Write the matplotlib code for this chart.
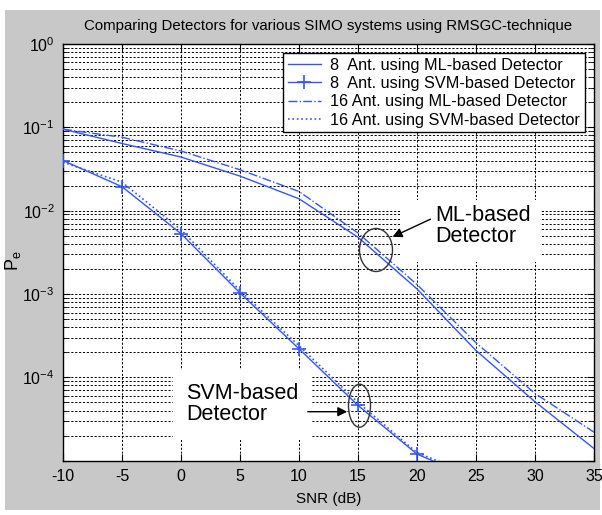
import numpy as np
import matplotlib
matplotlib.use("Agg")
from matplotlib import pyplot as plt
from matplotlib.patches import Ellipse, Rectangle
from matplotlib.ticker import LogLocator, FuncFormatter, NullFormatter

plt.rcParams['font.family'] = ['Liberation Sans', 'DejaVu Sans']
plt.rcParams['mathtext.default'] = 'regular'
plt.rcParams['axes.unicode_minus'] = False

# values
snr = [-10, -5, 0, 5, 10, 15, 20, 25, 30, 35]
ml_8 = [0.095, 0.064, 0.044, 0.026, 0.0139, 0.0048, 1.15e-3, 2.1e-4, 5.1e-5, 1.4e-5]
ml_16 = [0.095, 0.076, 0.052, 0.031, 0.017, 0.0054, 1.3e-3, 2.6e-4, 6.4e-5, 2.2e-5]

snr_svm = [-10, -5, 0, 5, 10, 15, 20, 25]
svm_8 = [0.040, 0.0194, 0.0053, 0.00103, 2.2e-4, 4.6e-5, 1.2e-5, 6e-6]
svm_16 = [0.038, 0.022, 0.0059, 0.0011, 2.4e-4, 5e-5, 1.25e-5, 6.5e-6]

labels = ['8  Ant. using ML-based Detector', '8  Ant. using SVM-based Detector',
          '16 Ant. using ML-based Detector', '16 Ant. using SVM-based Detector']

W, H = 602, 515
fig = plt.figure(figsize=(W / 100, H / 100), dpi=100, facecolor='white')
fig.patches.append(Rectangle((5 / W, 1 - 510 / H), 595 / W, 500 / H, transform=fig.transFigure,
                             facecolor='#c8c8c8', edgecolor='none', zorder=-10))

L, R, T, B = 63, 594, 44, 460.7
ax = fig.add_axes([L / W, 1 - B / H, (R - L) / W, (B - T) / H])
ax.set_facecolor('white')

def axfrac(px, py):
    return (px - L) / (R - L), (B - py) / (B - T)

blue = '#3355ff'
ax.plot(snr, ml_8, '-', color=blue, lw=1, label=labels[0], zorder=3)
ax.plot(snr_svm, svm_8, '-', marker='+', ms=10, mew=1.2, color=blue, lw=1, label=labels[1], zorder=3)
ax.plot(snr, ml_16, '-.', color=blue, lw=1, label=labels[2], zorder=3)
ax.plot(snr_svm, svm_16, ':', color=blue, lw=1.2, label=labels[3], zorder=3)

ax.set_yscale('log')
ax.set_xlim(-10, 35)
ax.set_ylim(1e-5, 1)
ax.set_xticks(range(-10, 36, 5))
ax.yaxis.set_major_locator(LogLocator(base=10, numticks=10))
ax.yaxis.set_minor_locator(LogLocator(base=10, subs=np.arange(2, 10), numticks=20))

def ylab(v, p):
    e = round(np.log10(v))
    return '' if e < -4 else r'$10^{%d}$' % e

ax.yaxis.set_major_formatter(FuncFormatter(ylab))
ax.yaxis.set_minor_formatter(NullFormatter())

ax.set_axisbelow(True)
ax.grid(True, which='major', axis='both', ls=(0, (2.2, 1.8)), color='black', lw=0.7)
ax.grid(True, which='minor', axis='y', ls=(0, (2.2, 1.8)), color='black', lw=0.7)

ax.tick_params(which='both', direction='in', top=True, right=True, labelsize=11.5, pad=6)
ax.tick_params(which='major', length=5)
ax.tick_params(which='minor', length=3)
for s in ax.spines.values():
    s.set_linewidth(1)

ax.set_title('Comparing Detectors for various SIMO systems using RMSGC-technique', fontsize=10.8, pad=10)
ax.set_xlabel('SNR (dB)', fontsize=11, labelpad=6)
ax.set_ylabel('$P_e$', fontsize=13)
ax.yaxis.set_label_coords(-0.075, 0.48)

# white boxes behind annotation text
for (x0, y0, x1, y1) in [(400, 200, 540, 262), (173, 370, 311, 440)]:
    fx0, fy1 = axfrac(x0, y0)
    fx1, fy0 = axfrac(x1, y1)
    ax.add_patch(Rectangle((fx0, fy0), fx1 - fx0, fy1 - fy0, transform=ax.transAxes,
                           facecolor='white', edgecolor='none', zorder=1))

# ML annotation
cx, cy = axfrac(376, 250)
ax.add_patch(Ellipse((cx, cy), 33 / (R - L), 43 / (B - T), transform=ax.transAxes,
                     fill=False, edgecolor='#333333', lw=1, zorder=4))
ax.annotate('', xy=axfrac(390, 238), xytext=axfrac(433, 218), xycoords='axes fraction',
            arrowprops=dict(arrowstyle='-|>', color='black', lw=1, mutation_scale=14), zorder=4)
ax.text(*axfrac(435, 226), 'ML-based\nDetector', transform=ax.transAxes, fontsize=15.5,
        ha='left', va='center', linespacing=1.0, zorder=4)

# SVM annotation
cx, cy = axfrac(359.5, 405.7)
ax.add_patch(Ellipse((cx, cy), 22 / (R - L), 43 / (B - T), transform=ax.transAxes,
                     fill=False, edgecolor='#333333', lw=1, zorder=4))
ax.annotate('', xy=axfrac(350, 411.7), xytext=axfrac(305, 411.7), xycoords='axes fraction',
            arrowprops=dict(arrowstyle='-|>', color='black', lw=1, mutation_scale=14), zorder=4)
ax.text(*axfrac(186, 404), 'SVM-based\nDetector', transform=ax.transAxes, fontsize=15.5,
        ha='left', va='center', linespacing=1.0, zorder=4)

leg = ax.legend(loc='upper right', fontsize=11.7, handlelength=2, handletextpad=0.6,
                labelspacing=0.2, borderpad=0.3, borderaxespad=0.55, fancybox=False,
                framealpha=1, edgecolor='black')
leg.get_frame().set_linewidth(1)
leg.set_zorder(5)

fig.savefig('out.png', dpi=100, facecolor=fig.get_facecolor())
